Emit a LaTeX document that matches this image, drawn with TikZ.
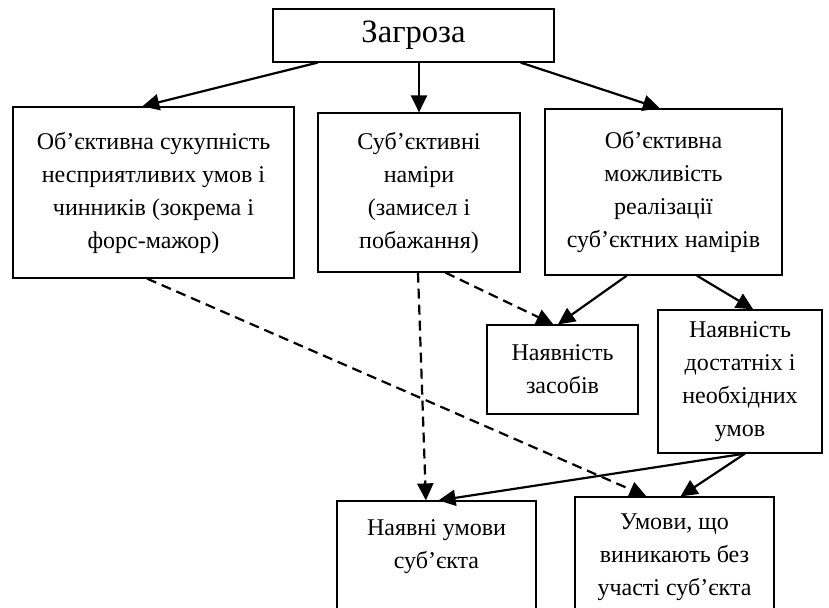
\documentclass[tikz,border=0pt]{standalone}
\usepackage{fontspec}
\setmainfont{Liberation Serif}
\usetikzlibrary{positioning,calc,arrows.meta}

\tikzset{
  box/.style={draw, line width=0.6pt, align=center, inner sep=0pt,
    font=\fontsize{12}{16.5}\selectfont},
  arr/.style={line width=1.1pt, -{Triangle[length=8.5pt,width=8pt]}},
  darr/.style={arr, dash pattern=on 5pt off 3pt},
}

\begin{document}
\begin{tikzpicture}[x=0.5pt,y=-0.5pt]
  \clip (0,0) rectangle (829,607);
  \node[box, minimum width=140.5pt, minimum height=26.5pt,
    font=\fontsize{16.3}{18}\selectfont] (threat) at (413.5,35.5) {Загроза};
  \node[box, minimum width=140.5pt, minimum height=85.5pt] (objset) at (153.5,192.5)
    {Об’єктивна сукупність\\несприятливих умов і\\чинників (зокрема і\\форс-мажор)};
  \node[box, minimum width=101pt, minimum height=79.5pt] (subjint) at (419,192.5)
    {Суб’єктивні\\наміри\\(замисел і\\побажання)};
  \node[box, minimum width=118.5pt, minimum height=83pt] (objposs) at (663.5,192)
    {Об’єктивна\\можливість\\реалізації\\суб’єктних намірів};
  \node[box, minimum width=75.5pt, minimum height=44.5pt] (means) at (562.5,369.5)
    {Наявність\\засобів};
  \node[box, minimum width=82pt, minimum height=71.5pt] (suffcond) at (740,381.5)
    {Наявність\\достатніх і\\необхідних\\умов};
  \node[box, minimum width=99.5pt, minimum height=59.5pt] (subjcond) at (436.5,560.5)
    {Наявні умови\\суб’єкта\\\mbox{}};
  \node[box, minimum width=99.5pt, minimum height=60pt] (extcond) at (674.5,557)
    {Умови, що\\виникають без\\участі суб’єкта};

  \draw[arr] ($(threat.south west)!.16!(threat.south east)$) -- ($(objset.north west)!.46!(objset.north east)$);
  \draw[arr] (threat.south -| subjint.north) -- (subjint.north);
  \draw[arr] ($(threat.south west)!.88!(threat.south east)$) -- ($(objposs.north west)!.485!(objposs.north east)$);
  \draw[arr] ($(objposs.south west)!.346!(objposs.south east)$) -- ($(means.north west)!.47!(means.north east)$);
  \draw[arr] ($(objposs.south west)!.64!(objposs.south east)$) -- ($(suffcond.north west)!.58!(suffcond.north east)$);
  \draw[darr] ($(subjint.south west)!.63!(subjint.south east)$) -- ($(means.north west)!.44!(means.north east)$);
  \draw[darr] ($(subjint.south west)!.495!(subjint.south east)$) -- ($(subjcond.north west)!.447!(subjcond.north east)$);
  \draw[darr] ($(objset.south west)!.477!(objset.south east)$) -- ($(extcond.north west)!.36!(extcond.north east)$);
  \draw[arr] ($(suffcond.south west)!.53!(suffcond.south east)$) -- ($(subjcond.north west)!.51!(subjcond.north east)$);
  \draw[arr] ($(suffcond.south west)!.53!(suffcond.south east)$) -- ($(extcond.north west)!.53!(extcond.north east)$);
\end{tikzpicture}
\end{document}
